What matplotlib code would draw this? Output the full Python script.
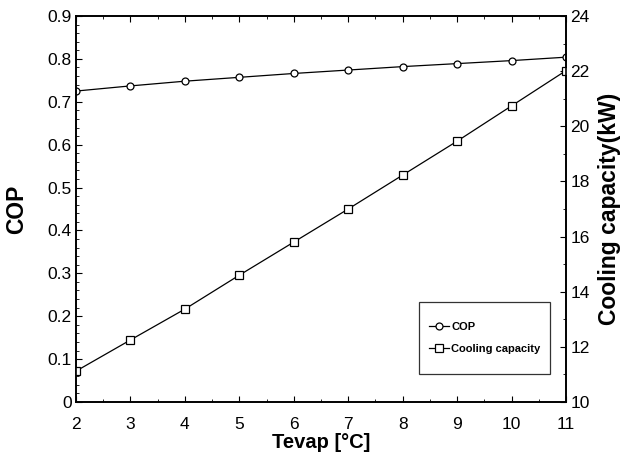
import numpy as np
import matplotlib
matplotlib.use("Agg")
from matplotlib import pyplot as plt
from matplotlib.ticker import MultipleLocator
from matplotlib.legend_handler import HandlerLine2D

plt.rcParams['font.family'] = ['Liberation Sans', 'DejaVu Sans']

tevap = [2, 3, 4, 5, 6, 7, 8, 9, 10, 11]
cop = [0.725, 0.737, 0.748, 0.757, 0.766, 0.774, 0.782, 0.789, 0.796, 0.804]
cooling = [11.12, 12.25, 13.37, 14.6, 15.8, 17.0, 18.23, 19.46, 20.74, 22.02]


# tall legend rows, but keep the handle level with the text
class MidLine(HandlerLine2D):
    def create_artists(self, legend, orig_handle, xdescent, ydescent,
                       width, height, fontsize, trans):
        h = 0.7 * fontsize + ydescent
        return super().create_artists(legend, orig_handle, xdescent, ydescent,
                                      width, h, fontsize, trans)


fig = plt.figure(figsize=(6.22, 4.61), dpi=100)
ax = fig.add_axes([76/622, 1-402/461, 490/622, 386/461])
ax2 = ax.twinx()

l1, = ax.plot(tevap, cop, 'k-', marker='o', mfc='white', mec='black',
              ms=5, lw=0.9, mew=0.9, label='COP')
l2, = ax2.plot(tevap, cooling, 'k-', marker='s', mfc='white', mec='black',
               ms=6, lw=0.9, mew=0.9, label='Cooling capacity')

ax.set_xlim(2, 11)
ax.set_ylim(0, 0.9)
ax2.set_ylim(10, 24)
ax.xaxis.set_major_locator(MultipleLocator(1))
ax.xaxis.set_minor_locator(MultipleLocator(0.5))
ax.yaxis.set_minor_locator(MultipleLocator(0.02))
ax2.yaxis.set_major_locator(MultipleLocator(2))
ax2.yaxis.set_minor_locator(MultipleLocator(1))
ax.set_yticks(np.arange(0, 0.95, 0.1))
ax.set_yticklabels(['0', '0.1', '0.2', '0.3', '0.4', '0.5', '0.6', '0.7', '0.8', '0.9'])

ax.tick_params(axis='x', which='both', direction='in', top=True, labelsize=12.5, pad=11)
ax.tick_params(axis='y', which='both', direction='in', right=False, labelsize=12.5, pad=3)
ax.tick_params(which='major', length=4)
ax.tick_params(which='minor', length=2.5)
ax2.tick_params(axis='y', which='both', direction='in', labelsize=12.5, pad=3)
ax2.tick_params(which='major', length=4)
ax2.tick_params(which='minor', length=2.5)

for a in (ax, ax2):
    for s in a.spines.values():
        s.set_linewidth(1.2)

ax.set_xlabel('Tevap [°C]', fontsize=14.5, fontweight='bold', labelpad=0.5)
ax.set_ylabel('COP', fontsize=16.5, fontweight='bold', labelpad=14)
ax2.set_ylabel('Cooling capacity(kW)', fontsize=16.5, fontweight='bold', labelpad=6)

leg = ax.legend(handles=[l1, l2], loc='lower right', bbox_to_anchor=(0.967, 0.073),
                prop={'weight': 'bold', 'size': 8}, frameon=True, fancybox=False,
                handlelength=1.8, handletextpad=0.2, borderpad=0.85, labelspacing=-0.9,
                handleheight=4.0, borderaxespad=0,
                handler_map={l1: MidLine(), l2: MidLine()})
leg.get_frame().set_edgecolor('black')
leg.get_frame().set_linewidth(0.9)

fig.savefig('out.png', dpi=100)
